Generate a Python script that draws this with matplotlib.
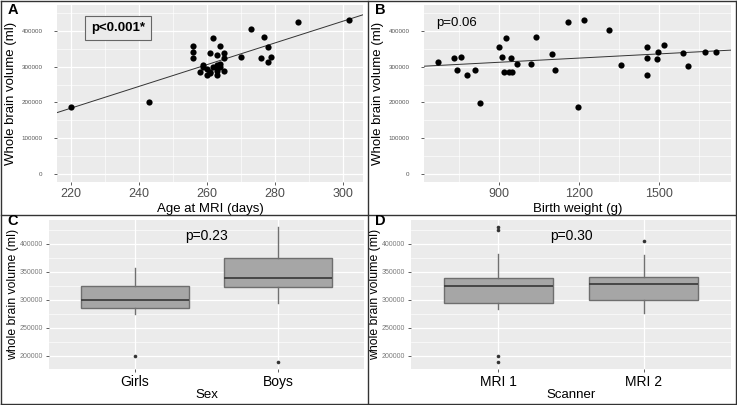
import matplotlib
matplotlib.use("Agg")
import matplotlib.pyplot as plt
import numpy as np
from matplotlib.lines import Line2D
from matplotlib.ticker import MultipleLocator, FixedLocator, StrMethodFormatter

plt.rcParams["font.family"] = ["Liberation Sans", "DejaVu Sans"]

# panel A: age at MRI (days) vs whole brain volume
age_days = [220, 243, 256, 256, 256, 258, 259, 259, 260, 260, 261, 261, 261,
            262, 262, 263, 263, 263, 263, 263, 264, 264, 264, 265, 265, 265,
            270, 273, 276, 277, 278, 278, 279, 287, 302]
age_volume = [188000, 200000, 357000, 340000, 323000, 286000, 306000, 298000,
              293000, 276000, 338000, 286000, 281000, 381000, 300000, 334000,
              305000, 289000, 277000, 297000, 359000, 307000, 300000, 339000,
              324000, 287000, 327000, 405000, 325000, 383000, 356000, 312000,
              327000, 424000, 430000]

# panel B: birth weight (g) vs whole brain volume
birth_weight = [671, 731, 741, 757, 781, 811, 831, 900, 911, 919, 926, 939,
                945, 950, 969, 1019, 1039, 1100, 1110, 1159, 1197, 1220, 1314,
                1357, 1456, 1456, 1456, 1492, 1496, 1521, 1591, 1611, 1674, 1715]
bw_volume = [312500, 323800, 291800, 326600, 275800, 291800, 198600, 355800,
             327500, 284200, 381200, 286100, 325600, 285200, 307800, 307800,
             382100, 334100, 289900, 424500, 187300, 429200, 403800, 305900,
             355800, 323800, 277600, 321900, 340700, 359500, 337900, 301200,
             339800, 339800]

# panel C: sex boxplot summary
sex_labels = ["Girls", "Boys"]
sex_whislo = [275000, 293000]
sex_q1 = [285000, 322000]
sex_med = [300000, 338000]
sex_q3 = [324000, 374000]
sex_whishi = [356000, 430000]
sex_out = [[200000], [188000]]

# panel D: scanner boxplot summary
scan_labels = ["MRI 1", "MRI 2"]
scan_whislo = [283000, 276000]
scan_q1 = [293000, 300000]
scan_med = [325000, 328000]
scan_q3 = [339000, 341000]
scan_whishi = [381000, 380000]
scan_out = [[200000, 188000, 424000, 430000], [404000]]

W, H = 737, 405
BG = "#EBEBEB"


def rect(l, r, t, b):
    return [l / W, 1 - b / H, (r - l) / W, (b - t) / H]


def gg_axes(ax):
    ax.set_facecolor(BG)
    for s in ax.spines.values():
        s.set_visible(False)
    ax.grid(which="major", color="white", lw=0.9)
    ax.grid(which="minor", color="white", lw=0.45)
    ax.set_axisbelow(True)
    ax.tick_params(which="major", length=2.5, width=0.6, color="#444444")
    ax.tick_params(which="minor", length=0)


fig = plt.figure(figsize=(W / 100, H / 100), dpi=100)

# ---- scatter panels
scatter_specs = [
    ("A", age_days, age_volume, rect(57, 363, 5, 182), (216, 306), MultipleLocator(20),
     MultipleLocator(10), "Age at MRI (days)"),
    ("B", birth_weight, bw_volume, rect(424, 731, 5, 182), (619, 1771), FixedLocator([900, 1200, 1500]),
     FixedLocator([750, 1050, 1350, 1650]), "Birth weight (g)"),
]
scatter_axes = []
for letter, xs, ys, pos, xlim, xmaj, xmin, xlabel in scatter_specs:
    ax = fig.add_axes(pos)
    gg_axes(ax)
    ax.set_xlim(*xlim)
    ax.set_ylim(-22500, 472500)
    ax.xaxis.set_major_locator(xmaj)
    ax.xaxis.set_minor_locator(xmin)
    ax.yaxis.set_major_locator(MultipleLocator(100000))
    ax.yaxis.set_minor_locator(FixedLocator([50000, 150000, 250000, 350000, 450000]))
    ax.yaxis.set_major_formatter(StrMethodFormatter("{x:.0f}"))
    ax.tick_params(axis="y", labelsize=4.5, labelcolor="#555555", pad=8)
    ax.tick_params(axis="x", labelsize=9, labelcolor="#4D4D4D", pad=2)
    coef = np.polyfit(xs, ys, 1)
    lx = np.array(xlim)
    ax.plot(lx, np.polyval(coef, lx), color="#333333", lw=0.7, zorder=2)
    ax.scatter(xs, ys, s=20, color="black", zorder=3, linewidths=0)
    ax.set_ylabel("Whole brain volume (ml)", fontsize=9.5, labelpad=3)
    ax.set_xlabel(xlabel, fontsize=9.5, labelpad=2)
    scatter_axes.append(ax)

axA, axB = scatter_axes
axA.text(0.2, 0.87, "p<0.001*", transform=axA.transAxes, fontsize=9.5, fontweight="bold",
         ha="center", va="center",
         bbox=dict(boxstyle="square,pad=0.45", facecolor=BG, edgecolor="#666666", lw=0.8))
axB.text(0.04, 0.9, "p=0.06", transform=axB.transAxes, fontsize=9.5, ha="left", va="center")

# ---- box panels
box_specs = [
    ("C", sex_labels, sex_whislo, sex_q1, sex_med, sex_q3, sex_whishi, sex_out,
     rect(49, 364, 220, 369), "Sex", "p=0.23"),
    ("D", scan_labels, scan_whislo, scan_q1, scan_med, scan_q3, scan_whishi, scan_out,
     rect(411, 731, 220, 369), "Scanner", "p=0.30"),
]
for letter, labels, lo, q1, med, q3, hi, out, pos, xlabel, ptxt in box_specs:
    ax = fig.add_axes(pos)
    gg_axes(ax)
    stats = [dict(label=labels[i], whislo=lo[i], q1=q1[i], med=med[i], q3=q3[i],
                  whishi=hi[i], fliers=out[i]) for i in range(len(labels))]
    ax.bxp(stats, positions=[1, 2], widths=0.75, patch_artist=True, showcaps=False,
           boxprops=dict(facecolor="#A6A6A6", edgecolor="#6E6E6E", lw=1.0),
           medianprops=dict(color="#3F3F3F", lw=1.3),
           whiskerprops=dict(color="#707070", lw=1.0),
           flierprops=dict(marker="o", markersize=2.6, markerfacecolor="#333333",
                           markeredgecolor="none"))
    ax.set_xlim(0.4, 2.6)
    ax.set_ylim(176000, 442000)
    ax.yaxis.set_major_locator(MultipleLocator(50000))
    ax.yaxis.set_minor_locator(MultipleLocator(25000))
    ax.yaxis.set_major_formatter(StrMethodFormatter("{x:.0f}"))
    ax.set_xticks([1, 2])
    ax.set_xticklabels(labels)
    ax.tick_params(axis="y", labelsize=5, labelcolor="#7A7A7A", pad=1.5)
    ax.tick_params(axis="x", labelsize=10, labelcolor="black", pad=2)
    ax.set_ylabel("whole brain volume (ml)", fontsize=8.8, labelpad=1)
    ax.set_xlabel(xlabel, fontsize=9.5, labelpad=0)
    ax.text(1.5, 413000, ptxt, fontsize=10, ha="center", va="center")

# panel letters
for letter, x, y in [("A", 8, 10), ("B", 375, 10), ("C", 7, 221), ("D", 375, 221)]:
    fig.text(x / W, 1 - y / H, letter, fontsize=10.5, fontweight="bold", ha="left", va="center")

# panel frames
frame = dict(color="#333333", lw=1.0)
for x0, y0, x1, y1 in [(1, 1, 736, 1), (1, 404, 736, 404), (1, 1, 1, 404), (736, 1, 736, 404),
                       (368, 1, 368, 404), (1, 215, 736, 215)]:
    fig.add_artist(Line2D([x0 / W, x1 / W], [1 - y0 / H, 1 - y1 / H], **frame))

fig.savefig("out.png", dpi=100)
